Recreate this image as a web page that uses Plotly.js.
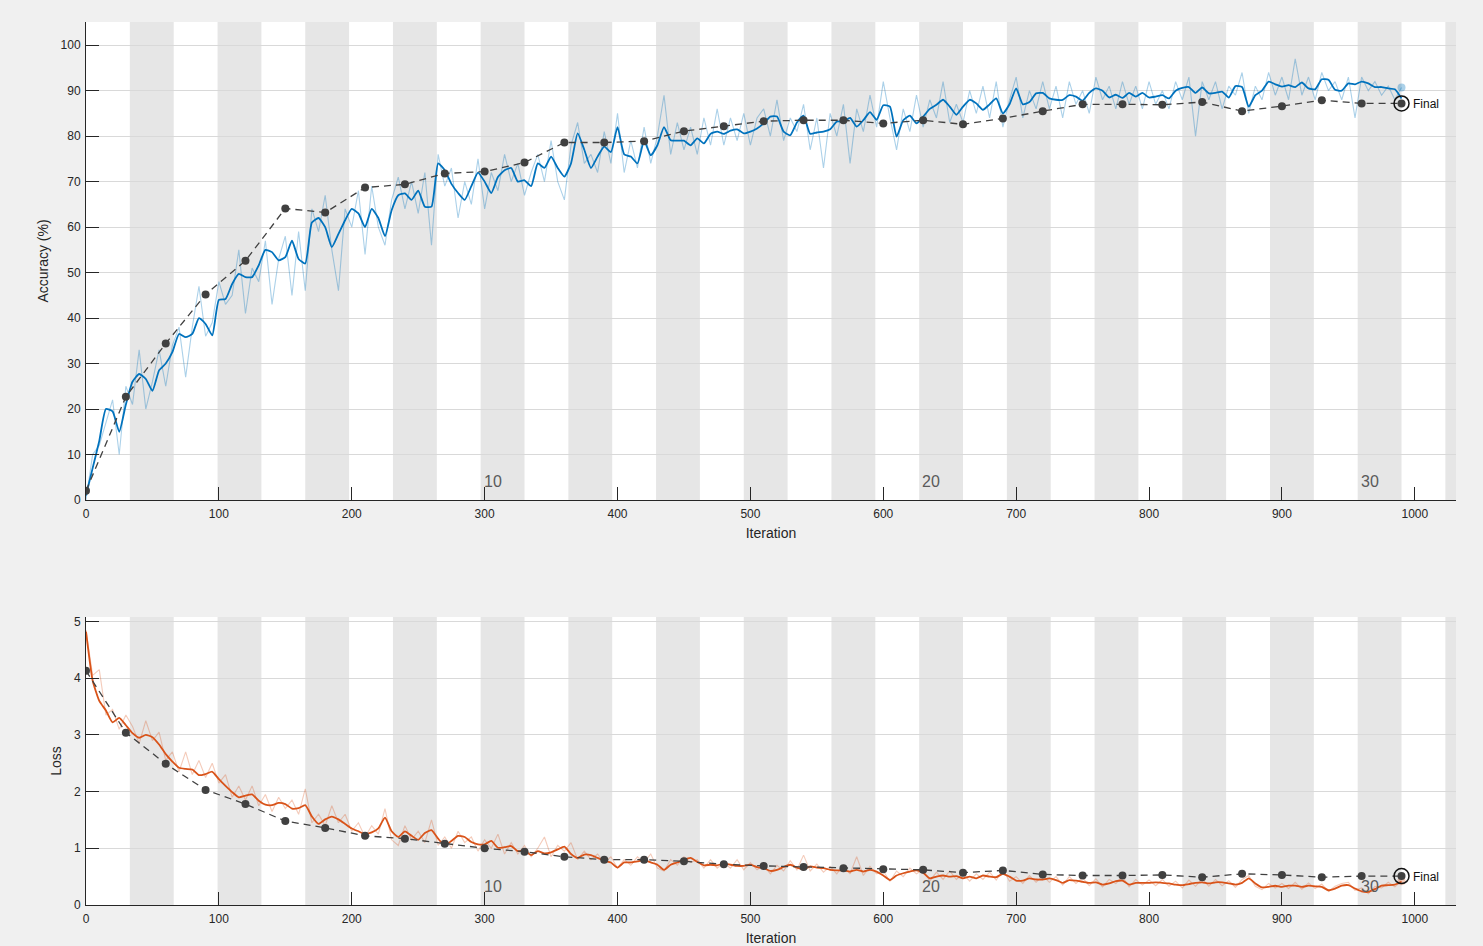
<!DOCTYPE html>
<html>
<head>
<meta charset="utf-8">
<script src="https://cdn.plot.ly/plotly-3.0.1.min.js"></script>
<style>
  html, body { margin: 0; padding: 0; background: #f0f0f0; }
  #chart { width: 1483px; height: 946px; }
</style>
</head>
<body>
<div id="chart"></div>
<script>
// training curve, one value every 5 iterations (0..990)
const trainStep = 5;
const accSmooth = [
  1, 7, 13, 20, 19.5, 15, 21, 26, 27.7, 26.6,
  24, 28.5, 30, 32.5, 36.5, 35.8, 36.5, 40, 38.7, 36.2,
  44, 44.2, 47.5, 49.7, 49, 49, 51.6, 55, 54.5, 52.7,
  53.4, 57, 53, 52, 61, 62, 60, 55.6, 58.5, 61.5,
  64, 63, 60, 64, 62, 58, 63.7, 67, 67.4, 66,
  68, 64.5, 64.5, 74, 72.5, 69.5, 67.5, 66, 69, 72,
  70, 67.5, 71, 72.5, 73, 70, 70.3, 69, 74, 73,
  75.5, 73, 71.1, 74, 80.6, 77, 73, 75.5, 77.7, 76.5,
  82, 76, 75.5, 74, 79, 75.8, 78, 82, 79.1, 79,
  79, 78, 79.5, 78.4, 80.5, 81, 80.5, 81.2, 81.5, 80.6,
  81, 81.7, 82.8, 84.3, 84.3, 81, 80.2, 83, 84.5, 80.5,
  80.8, 81, 81.5, 83.2, 83.2, 84, 82.1, 83.5, 85.3, 83.6,
  86.8, 86.5, 79.9, 83.5, 84.5, 82.8, 84.3, 86, 86.9, 88,
  86.5, 84.7, 86.5, 88, 87.2, 85.8, 87, 88.3, 85, 87,
  90.5, 87, 87.5, 89.4, 89.5, 88.3, 88, 88, 89, 88.7,
  87.8, 89.5, 90.5, 90, 88.5, 89.1, 88.4, 89.5, 88.7, 89.5,
  88.5, 88.7, 89, 88.3, 90, 90.6, 90.8, 89.5, 90.7, 89.4,
  89.5, 89.8, 88.5, 91, 90.8, 86.5, 89, 90, 92, 91.4,
  90.9, 91.2, 90.8, 91.8, 90.5, 90.3, 92.5, 92.4, 90.2, 90,
  91.6, 91.4, 92, 91.6, 90.8, 90.8, 90.5, 90.3, 88.3
];
const accRaw = [
  0, 10, 12, 17, 22, 10, 25, 21, 33, 20,
  26, 33, 25, 34, 38, 27, 38, 47, 36, 39,
  48, 43, 45, 55, 41, 51, 48, 57, 43, 53,
  58, 45, 59, 46, 64, 59, 67, 55, 46, 64,
  60, 68, 54, 69, 60, 56, 66, 71, 64, 70,
  63, 72, 56, 76, 69, 73, 62, 70, 65, 75,
  64, 72, 68, 76, 70, 74, 67, 72, 76, 70,
  79, 70, 66, 78, 83, 74, 76, 72, 81, 74,
  85, 72, 79, 73, 82, 74, 80, 89, 76, 83,
  77, 82, 76, 84, 78, 86, 78, 84, 79, 85,
  78, 84, 86, 80, 88, 79, 84, 81, 87, 77,
  84, 73, 85, 80, 87, 74, 86, 81, 89, 82,
  92, 84, 77, 86, 81, 89, 82, 88, 84, 92,
  83, 87, 83, 90, 85, 91, 84, 92, 82, 88,
  93, 84, 90, 86, 92, 86, 91, 84, 92, 87,
  90, 85, 93, 88, 91, 86, 92, 87, 91, 86,
  92, 87, 90, 86, 92, 88, 93, 80, 92, 88,
  92, 86, 91, 89, 94, 85, 91, 88, 94, 89,
  93, 88, 97, 89, 93, 88, 94, 90, 92, 88,
  93, 84, 93, 90, 92, 89, 91, 88, 90.7
];
const lossSmooth = [
  4.82, 3.96, 3.60, 3.43, 3.22, 3.30, 3.17, 3.03, 2.95, 3.00,
  2.96, 2.83, 2.66, 2.53, 2.42, 2.40, 2.39, 2.29, 2.31, 2.35,
  2.22, 2.10, 1.99, 1.90, 1.93, 1.95, 1.84, 1.77, 1.76, 1.80,
  1.78, 1.70, 1.71, 1.76, 1.56, 1.43, 1.51, 1.56, 1.51, 1.43,
  1.35, 1.30, 1.25, 1.28, 1.35, 1.54, 1.30, 1.20, 1.30, 1.22,
  1.15, 1.27, 1.32, 1.17, 1.05, 1.13, 1.22, 1.20, 1.11, 1.07,
  1.07, 1.13, 1.01, 1.02, 1.04, 0.95, 0.96, 0.88, 0.95, 0.91,
  0.93, 0.98, 1.03, 0.90, 0.83, 0.89, 0.88, 0.83, 0.78, 0.75,
  0.66, 0.75, 0.75, 0.77, 0.79, 0.75, 0.71, 0.62, 0.71, 0.75,
  0.80, 0.83, 0.76, 0.70, 0.71, 0.70, 0.73, 0.71, 0.69, 0.69,
  0.71, 0.67, 0.65, 0.60, 0.62, 0.67, 0.71, 0.66, 0.63, 0.68,
  0.66, 0.65, 0.62, 0.61, 0.61, 0.59, 0.62, 0.59, 0.62, 0.59,
  0.52, 0.44, 0.52, 0.56, 0.59, 0.61, 0.57, 0.47, 0.50, 0.52,
  0.50, 0.51, 0.47, 0.50, 0.47, 0.52, 0.50, 0.49, 0.55, 0.50,
  0.43, 0.43, 0.47, 0.45, 0.45, 0.47, 0.44, 0.39, 0.44, 0.43,
  0.41, 0.39, 0.40, 0.36, 0.38, 0.42, 0.43, 0.36, 0.39, 0.39,
  0.39, 0.40, 0.39, 0.38, 0.36, 0.35, 0.37, 0.39, 0.40, 0.38,
  0.40, 0.40, 0.38, 0.36, 0.39, 0.47, 0.38, 0.31, 0.32, 0.34,
  0.32, 0.34, 0.34, 0.32, 0.34, 0.33, 0.32, 0.26, 0.29, 0.34,
  0.35, 0.29, 0.24, 0.23, 0.28, 0.34, 0.35, 0.36, 0.41
];
const lossRaw = [
  4.85, 4.05, 4.15, 3.35, 3.45, 3.1, 3.35, 3.15, 2.85, 3.25,
  2.9, 3.05, 2.55, 2.7, 2.35, 2.7, 2.3, 2.55, 2.25, 2.5,
  2.15, 2.3, 1.9, 2.1, 1.85, 2.1, 1.75, 1.95, 1.65, 1.9,
  1.7, 1.85, 1.6, 2.05, 1.45, 1.6, 1.4, 1.75, 1.45, 1.6,
  1.3, 1.45, 1.2, 1.4, 1.25, 1.7, 1.15, 1.05, 1.4, 1.15,
  1.3, 1.1, 1.5, 1.05, 1.2, 1.0, 1.3, 1.1, 1.2, 0.95,
  1.15, 1.0, 1.25, 0.9, 1.1, 0.9, 1.05, 0.85, 1.0, 1.2,
  0.85, 1.05, 0.95, 1.1, 0.8, 0.95, 0.8, 0.9, 0.75, 0.85,
  0.65, 0.8, 0.7, 0.85, 0.75, 0.9, 0.65, 0.6, 0.8, 0.7,
  0.85, 0.75, 0.8, 0.65, 0.8, 0.65, 0.75, 0.65, 0.8, 0.62,
  0.75, 0.62, 0.7, 0.55, 0.7, 0.6, 0.78, 0.62, 0.88, 0.6,
  0.72, 0.58, 0.68, 0.55, 0.7, 0.55, 0.85, 0.52, 0.68, 0.55,
  0.6, 0.42, 0.6, 0.5, 0.65, 0.55, 0.62, 0.42, 0.58, 0.45,
  0.6, 0.45, 0.55, 0.42, 0.55, 0.45, 0.58, 0.44, 0.62, 0.42,
  0.5, 0.38, 0.52, 0.4, 0.52, 0.4, 0.5, 0.35, 0.5, 0.38,
  0.48, 0.34, 0.46, 0.32, 0.45, 0.38, 0.5, 0.32, 0.45, 0.35,
  0.44, 0.34, 0.45, 0.33, 0.42, 0.3, 0.44, 0.33, 0.46, 0.33,
  0.45, 0.34, 0.43, 0.31, 0.45, 0.52, 0.33, 0.27, 0.38, 0.3,
  0.38, 0.29, 0.4, 0.28, 0.39, 0.29, 0.37, 0.24, 0.33, 0.38,
  0.4, 0.26, 0.3, 0.2, 0.33, 0.3, 0.4, 0.32, 0.42
];

// validation, every 30 iterations (0..990)
const valStep = 30;
const valAcc = [2, 22.7, 34.4, 45.2, 52.6, 64.1, 63.2, 68.7, 69.4, 71.8, 72.2, 74.2,
  78.6, 78.6, 78.9, 81.1, 82.2, 83.3, 83.5, 83.5, 82.8, 83.5, 82.6, 83.9,
  85.5, 87.0, 87.0, 86.9, 87.5, 85.5, 86.6, 87.9, 87.2, 87.2];
const valLoss = [4.13, 3.04, 2.49, 2.03, 1.78, 1.48, 1.36, 1.22, 1.17, 1.08, 1.00, 0.94,
  0.85, 0.80, 0.80, 0.77, 0.72, 0.69, 0.67, 0.65, 0.63, 0.62, 0.57, 0.61,
  0.54, 0.52, 0.52, 0.53, 0.49, 0.55, 0.53, 0.49, 0.51, 0.51];

const itersPerEpoch = 33;
const numEpochs = 30;
const epochLabels = [10, 20, 30];
const xTicks = [0, 100, 200, 300, 400, 500, 600, 700, 800, 900, 1000];
const accTicks = [0, 10, 20, 30, 40, 50, 60, 70, 80, 90, 100];
const lossTicks = [0, 1, 2, 3, 4, 5];

const trainIter = accSmooth.map((_, i) => i * trainStep);
const valIter = valAcc.map((_, i) => i * valStep);
const xMax = 1031;

const blue = '#0072BD';
const orange = '#D95319';
const dark = '#404040';
const axisCol = '#262626';

function curveTraces(raw, smooth, val, color, lightColor, xa, ya) {
  const last = val.length - 1;
  return [
    { x: trainIter, y: raw, xaxis: xa, yaxis: ya, mode: 'lines',
      line: { color: lightColor, width: 1.1 } },
    { x: trainIter, y: smooth, xaxis: xa, yaxis: ya, mode: 'lines',
      line: { color: color, width: 1.8, shape: 'spline', smoothing: 0.5 } },
    { x: [trainIter[trainIter.length - 1]], y: [raw[raw.length - 1]], xaxis: xa, yaxis: ya,
      mode: 'markers', marker: { color: lightColor, size: 8 } },
    { x: valIter, y: val, xaxis: xa, yaxis: ya, mode: 'lines+markers',
      line: { color: dark, width: 1.3, dash: '7px,5px' },
      marker: { color: dark, size: 8 } },
    { x: [valIter[last]], y: [val[last]], xaxis: xa, yaxis: ya, mode: 'markers',
      marker: { color: 'rgba(0,0,0,0)', size: 15, line: { color: '#111', width: 1.5 } } }
  ];
}

const data = [].concat(
  curveTraces(accRaw, accSmooth, valAcc, blue, 'rgba(0,114,189,0.33)', 'x', 'y'),
  curveTraces(lossRaw, lossSmooth, valLoss, orange, 'rgba(217,83,25,0.3)', 'x2', 'y2')
);

const shapes = [];
const annotations = [];
['y', 'y2'].forEach(function(ya, k) {
  const xa = k === 0 ? 'x' : 'x2';
  for (let e = 2; e <= numEpochs + 2; e += 2) {
    const x0 = (e - 1) * itersPerEpoch;
    if (x0 >= xMax) break;
    shapes.push({ type: 'rect', xref: xa, yref: ya + ' domain', layer: 'below',
      x0: x0, x1: Math.min(e * itersPerEpoch, xMax), y0: 0, y1: 1,
      fillcolor: '#e6e6e6', line: { width: 0 } });
  }
  epochLabels.forEach(function(ep) {
    annotations.push({ xref: xa, yref: ya, x: (ep - 1) * itersPerEpoch, y: 0,
      xanchor: 'left', yanchor: 'bottom', xshift: 1, yshift: 8, showarrow: false,
      text: String(ep), font: { size: 16, color: '#5a5a5a' } });
  });
});
annotations.push({ xref: 'x', yref: 'y', x: valIter[valIter.length - 1], y: valAcc[valAcc.length - 1],
  xanchor: 'left', xshift: 9, yshift: -1, showarrow: false, text: 'Final',
  font: { size: 12, color: '#111' } });
annotations.push({ xref: 'x2', yref: 'y2', x: valIter[valIter.length - 1], y: valLoss[valLoss.length - 1],
  xanchor: 'left', xshift: 9, yshift: -1, showarrow: false, text: 'Final',
  font: { size: 12, color: '#111' } });

function xAxis(anchor) {
  return {
    anchor: anchor, range: [0, xMax], tickvals: xTicks, ticks: 'inside', ticklen: 13,
    tickcolor: axisCol, showgrid: false, zeroline: false, showline: true,
    linecolor: axisCol, linewidth: 1, tickfont: { size: 12, color: axisCol },
    ticklabelstandoff: 3,
    title: { text: 'Iteration', font: { size: 14, color: axisCol }, standoff: 7 }
  };
}
function yAxis(anchor, domain, range, ticks, title) {
  return {
    anchor: anchor, domain: domain, range: range, tickvals: ticks, ticks: 'inside',
    ticklen: 13, tickcolor: axisCol, showgrid: true, gridcolor: '#d9d9d9',
    zeroline: false, showline: true, linecolor: axisCol, linewidth: 1,
    tickfont: { size: 12, color: axisCol }, ticklabelstandoff: 2,
    title: { text: title, font: { size: 14, color: axisCol }, standoff: 8 }
  };
}

const layout = {
  width: 1483, height: 946,
  margin: { l: 86, r: 27, t: 22, b: 41 },
  paper_bgcolor: '#f0f0f0', plot_bgcolor: '#ffffff',
  font: { family: 'Liberation Sans, Arial, sans-serif', color: axisCol },
  showlegend: false, hovermode: false,
  xaxis: xAxis('y'),
  yaxis: yAxis('x', [0.4587, 1], [0, 105.1], accTicks, 'Accuracy (%)'),
  xaxis2: xAxis('y2'),
  yaxis2: yAxis('x2', [0, 0.3262], [0, 5.08], lossTicks, 'Loss'),
  shapes: shapes,
  annotations: annotations
};

Plotly.newPlot('chart', data, layout, { displayModeBar: false, staticPlot: true });
</script>
</body>
</html>
